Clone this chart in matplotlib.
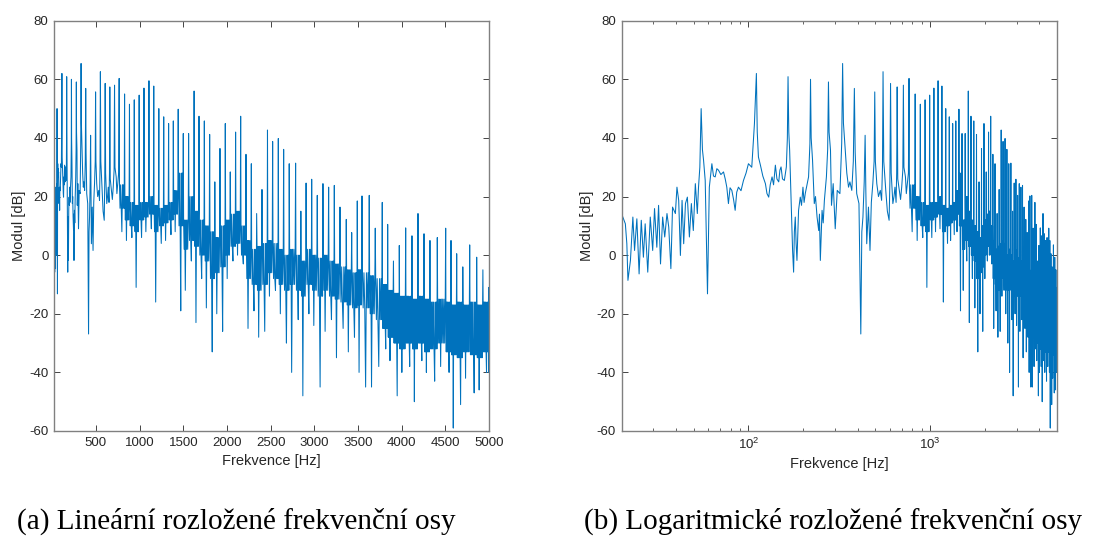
import matplotlib
matplotlib.use("Agg")
import matplotlib.pyplot as plt
from matplotlib.ticker import FixedLocator, NullFormatter

# --- low-frequency part of the spectrum, read point by point (Hz, dB) ---
low_hz = [20.0, 21.0, 21.4, 21.7, 22.4, 23.1, 23.6, 24.3, 25.0, 25.7, 26.4, 27.0, 27.9,
          28.8, 29.7, 30.4, 31.3, 32.0, 32.8, 33.7, 34.6, 35.6, 36.4, 37.4, 38.2, 39.6,
          40.4, 41.3, 42.2, 43.1, 44.0, 45.0, 46.1, 47.3, 48.5, 49.7, 51.0, 52.3, 53.1,
          54.0, 54.9, 55.8, 56.6, 57.8, 59.5, 60.9, 62.9, 64.2, 65.6, 67.0, 68.4, 70.5,
          72.9, 74.5, 76.0, 77.6, 79.2, 81.0, 82.8, 84.5, 86.2, 88.1, 91.0, 93.9, 97.0,
          100, 104.3, 107.9, 110.6, 111.8, 113.5, 116.4, 120, 124, 126.5, 129.3, 131.8,
          134.9, 137.5, 140.7, 143.5, 146.8, 149, 151.2, 154, 157.7, 161.7, 163.8, 165.2,
          166.8, 168.6, 171.7, 175, 177.3, 179, 181.1, 183, 185, 188.8, 192.9, 196, 199.6,
          202.5, 205.5, 210, 214.3, 218, 219.7, 221.5, 225.4, 230.4, 234, 238.7, 243.7,
          246, 248.8, 254.3, 258, 261.9, 268.7, 273, 275.8, 278, 283, 286.6, 292.8, 300.5,
          308.3, 318.9, 326.2, 330, 333.5, 341.4, 348, 355.7, 362, 370.7, 378, 383, 387,
          394.6, 406, 415.6, 421, 427, 434, 439, 443, 448, 458, 467, 475, 484, 492, 496,
          500, 509, 520, 532, 541, 547, 551, 556, 572, 582, 595, 601, 606, 611, 624, 633,
          641, 650, 655, 659, 664, 677, 688, 698, 708, 713, 718, 732, 740, 750, 760]
low_db = [14.2, 10.7, 3.9, -8.6, -1.8, 13, 1.6, 12.4, -6.4, 11.9, -0.7, 10.7, -5.8,
          13, 1.6, 15.9, 2.7, 17, -3, 13, 6.2, 14.2, 9.6, -4.6, 16.4, 14.2,
          23.2, 18.7, -0.1, 18.7, 3.9, 17.6, 19.8, 6.2, 17.6, 8.4, 24.4, 14.2, 23.2,
          30, 50, 36, 32.4, 25.5, -13.2, 23.2, 31.2, 27, 26.7, 29.5, 29, 27.5,
          28.4, 26, 23.2, 17.6, 23, 22.1, 19, 15.3, 21.5, 23.2, 22, 25.5, 28,
          31.2, 30, 44.9, 62, 42, 33.5, 30.7, 27, 24.4, 21, 19.8, 24,
          26.7, 24, 30.7, 26, 25, 29, 30.1, 26, 25.5, 30.1, 40, 60.9,
          42, 35.8, 18.7, 1.6, -5.8, 8, 13, 4, -1.8, 15.3, 19.8, 17, 23.2,
          18, 21, 24, 26.7, 38, 60, 40, 32.4, 17.6, 20, 13, 8.4,
          14, -1.8, 15.3, 11, 18.7, 26.7, 36, 59.1, 42, 35.8, 17, 24.4, 9,
          22.1, 21, 38.1, 65.4, 45, 35.8, 28, 23.2, 25, 22.1, 32, 56.9, 35,
          21, 17.6, -26.9, 8, 13, 25, 40.9, 22, 3.9, 16.4, 1.6, 18, 24.4, 32, 55.7,
          32, 24.4, 20, 22.1, 18.7, 30, 62.6, 32, 21, 15, 11.9, 25, 58.6, 28, 17.6, 20,
          23.2, 18, 28, 57.4, 26, 22.1, 19, 23.2, 29, 58, 30, 26.7, 21, 24.4, 28]

# --- harmonic peaks above 750 Hz and the noise between them ---
peak_hz = [766, 828, 884, 939, 995, 1050, 1107, 1162, 1220, 1276, 1332, 1386, 1442,
           1500, 1561, 1624, 1680, 1741, 1802, 1861, 1920, 1981, 2038, 2099, 2157,
           2218, 2279, 2340, 2401, 2464, 2523, 2588, 2649, 2713, 2786, 2846, 2906,
           2970, 3034, 3099, 3164, 3229, 3294, 3366, 3428, 3492, 3546, 3629, 3698,
           3778, 3840, 3906, 3973, 4046, 4118, 4187, 4256, 4324, 4408, 4504, 4565,
           4630, 4700, 4779, 4859, 4930, 4995]
peak_db = [60.3, 55, 51.5, 53, 54.6, 57, 59.5, 57.7, 50, 47.2, 44.9, 45.8, 49.8,
           41.5, 41.5, 56, 47.4, 45.8, 41.2, 25, 36.4, 44.9, 28.4, 42, 47.4,
           34.4, 31.2, 14.2, 22.4, 42.7, 38.8, 39.8, 36.1, 31.2, 31.4, 15, 24.6,
           25.9, 20.4, 24.4, 23.2, 23.8, 16.4, 12.2, 7.7, 18.5, 20.2, 20.4, 9.2,
           18, 10.5, -2, 3.3, 9.3, 6.6, 14.2, 7.3, 5, 6, 9.2, 5,
           0.5, -4, 3.5, -0.7, -5, -11]
floor_hi = [24, 20, 18, 17, 18, 18, 20, 17, 16, 17, 18, 22, 28,
            12, 20, 15, 12, 10, 8, 6, 10, 12, 14, 15, 10,
            5, 2, 3, 4, 5, 4, 2, 0, 2, 0, -2, 2,
            0, -1, 0, -2, -3, -4, -5, -6, -5, -6, -7, -8,
            -10, -12, -13, -14, -14, -15, -14, -15, -16, -15, -16, -17,
            -16, -17, -16, -17, -16, -16]
floor_lo = [16, 12, 10, 8, 12, 13, 14, 8, 10, 11, 12, 14, 10,
            2, 5, 3, 0, -2, -8, -6, -4, 0, 3, 4, 0,
            -8, -10, -12, -10, -6, -8, -10, -12, -10, -12, -14, -10,
            -12, -14, -12, -14, -15, -16, -17, -18, -17, -18, -20, -22,
            -25, -28, -30, -32, -30, -32, -30, -33, -32, -30, -33, -34,
            -35, -33, -34, -35, -33, -33]
dip_db = [8, 5, 6, -11, 6, 8, 9, -16, 4, 5, 7, 8, -19,
          -12, -2, -23, -8, -18, -33, -20, -26, -8, -2, 0, -3,
          -25, -19, -28, -26, -14, -12, -20, -30, -40, -22, -48, -20,
          -24, -45, -26, -22, -35, -25, -33, -28, -40, -45, -45, -38,
          -32, -36, -48, -40, -38, -50, -36, -40, -43, -38, -40, -59,
          -51, -42, -47, -46, -40, -40]

# build the trace: detailed low part, then peak -> noise -> next peak
freq = list(low_hz)
level = list(low_db)
steps_sparse = [0.06, 0.16, 0.27, 0.38, 0.5, 0.61, 0.72, 0.83, 0.93]
steps_dense = [0.04, 0.11, 0.18, 0.25, 0.32, 0.4, 0.48, 0.56, 0.64, 0.72, 0.8, 0.88, 0.95]
for i in range(len(peak_hz)):
    f0 = peak_hz[i]
    f1 = peak_hz[i + 1] if i + 1 < len(peak_hz) else 5000
    hi, lo, dip = floor_hi[i], floor_lo[i], dip_db[i]
    if f0 < 3700:
        steps = steps_sparse
        if i % 2 == 0:
            noise = [hi, lo, hi, lo, dip, hi, lo, hi, lo]
        else:
            noise = [hi, lo, hi, dip, hi, lo, hi, lo, hi]
    else:
        steps = steps_dense
        if i % 2 == 0:
            noise = [hi, lo, hi, lo, hi, dip, hi, lo, hi, lo, hi, lo, hi]
        else:
            noise = [hi, lo, hi, lo, hi, lo, hi, lo, dip, hi, lo, hi, lo]
    freq.append(f0)
    level.append(peak_db[i])
    for t, v in zip(steps, noise):
        f = f0 + t * (f1 - f0)
        if f < 5000:
            freq.append(f)
            level.append(v)

plt.rcParams['font.family'] = ['Liberation Sans', 'DejaVu Sans']
plt.rcParams['axes.unicode_minus'] = False
plt.rcParams['mathtext.fontset'] = 'custom'
plt.rcParams['mathtext.rm'] = 'Liberation Sans'
plt.rcParams['mathtext.it'] = 'Liberation Sans'

line_color = '#0072BD'
text_color = '#262626'
spine_color = '#808080'

fig = plt.figure(figsize=(10.97, 5.38), dpi=100)
ax1 = fig.add_axes([54 / 1097, 1 - 431 / 538, 435 / 1097, 410.3 / 538])
ax2 = fig.add_axes([621.5 / 1097, 1 - 431 / 538, 435.5 / 1097, 410.3 / 538])

for ax in (ax1, ax2):
    ax.plot(freq, level, color=line_color, linewidth=0.75)
    ax.set_xlim(20, 5000)
    ax.set_ylim(-60, 80)
    ax.set_yticks(range(-60, 81, 20))
    ax.set_xlabel('Frekvence [Hz]', fontsize=10.5, color=text_color, labelpad=4)
    ax.set_ylabel('Modul [dB]', fontsize=10.5, color=text_color, labelpad=2)
    ax.tick_params(direction='in', top=True, right=True, labelsize=9.5,
                   colors=text_color, length=4, width=0.6, pad=4)
    ax.tick_params(which='minor', direction='in', top=True, right=True,
                   length=2.5, width=0.5, color=text_color)
    for s in ax.spines.values():
        s.set_color(spine_color)
        s.set_linewidth(1.0)

ax1.set_xticks(range(500, 5001, 500))

ax2.set_xscale('log')
ax2.xaxis.set_major_locator(FixedLocator([100, 1000]))
ax2.set_xticklabels(['$10^2$', '$10^3$'])
ax2.xaxis.set_minor_locator(FixedLocator([30, 40, 50, 60, 70, 80, 90,
                                          200, 300, 400, 500, 600, 700, 800, 900,
                                          2000, 3000, 4000]))
ax2.xaxis.set_minor_formatter(NullFormatter())

fig.text(0.2156, 0.018, '(a) Lineární rozložené frekvenční osy', fontsize=21,
         family='Liberation Serif', ha='center', va='baseline', color='black')
fig.text(0.759, 0.018, '(b) Logaritmické rozložené frekvenční osy', fontsize=21,
         family='Liberation Serif', ha='center', va='baseline', color='black')

fig.savefig('out.png', dpi=100)
